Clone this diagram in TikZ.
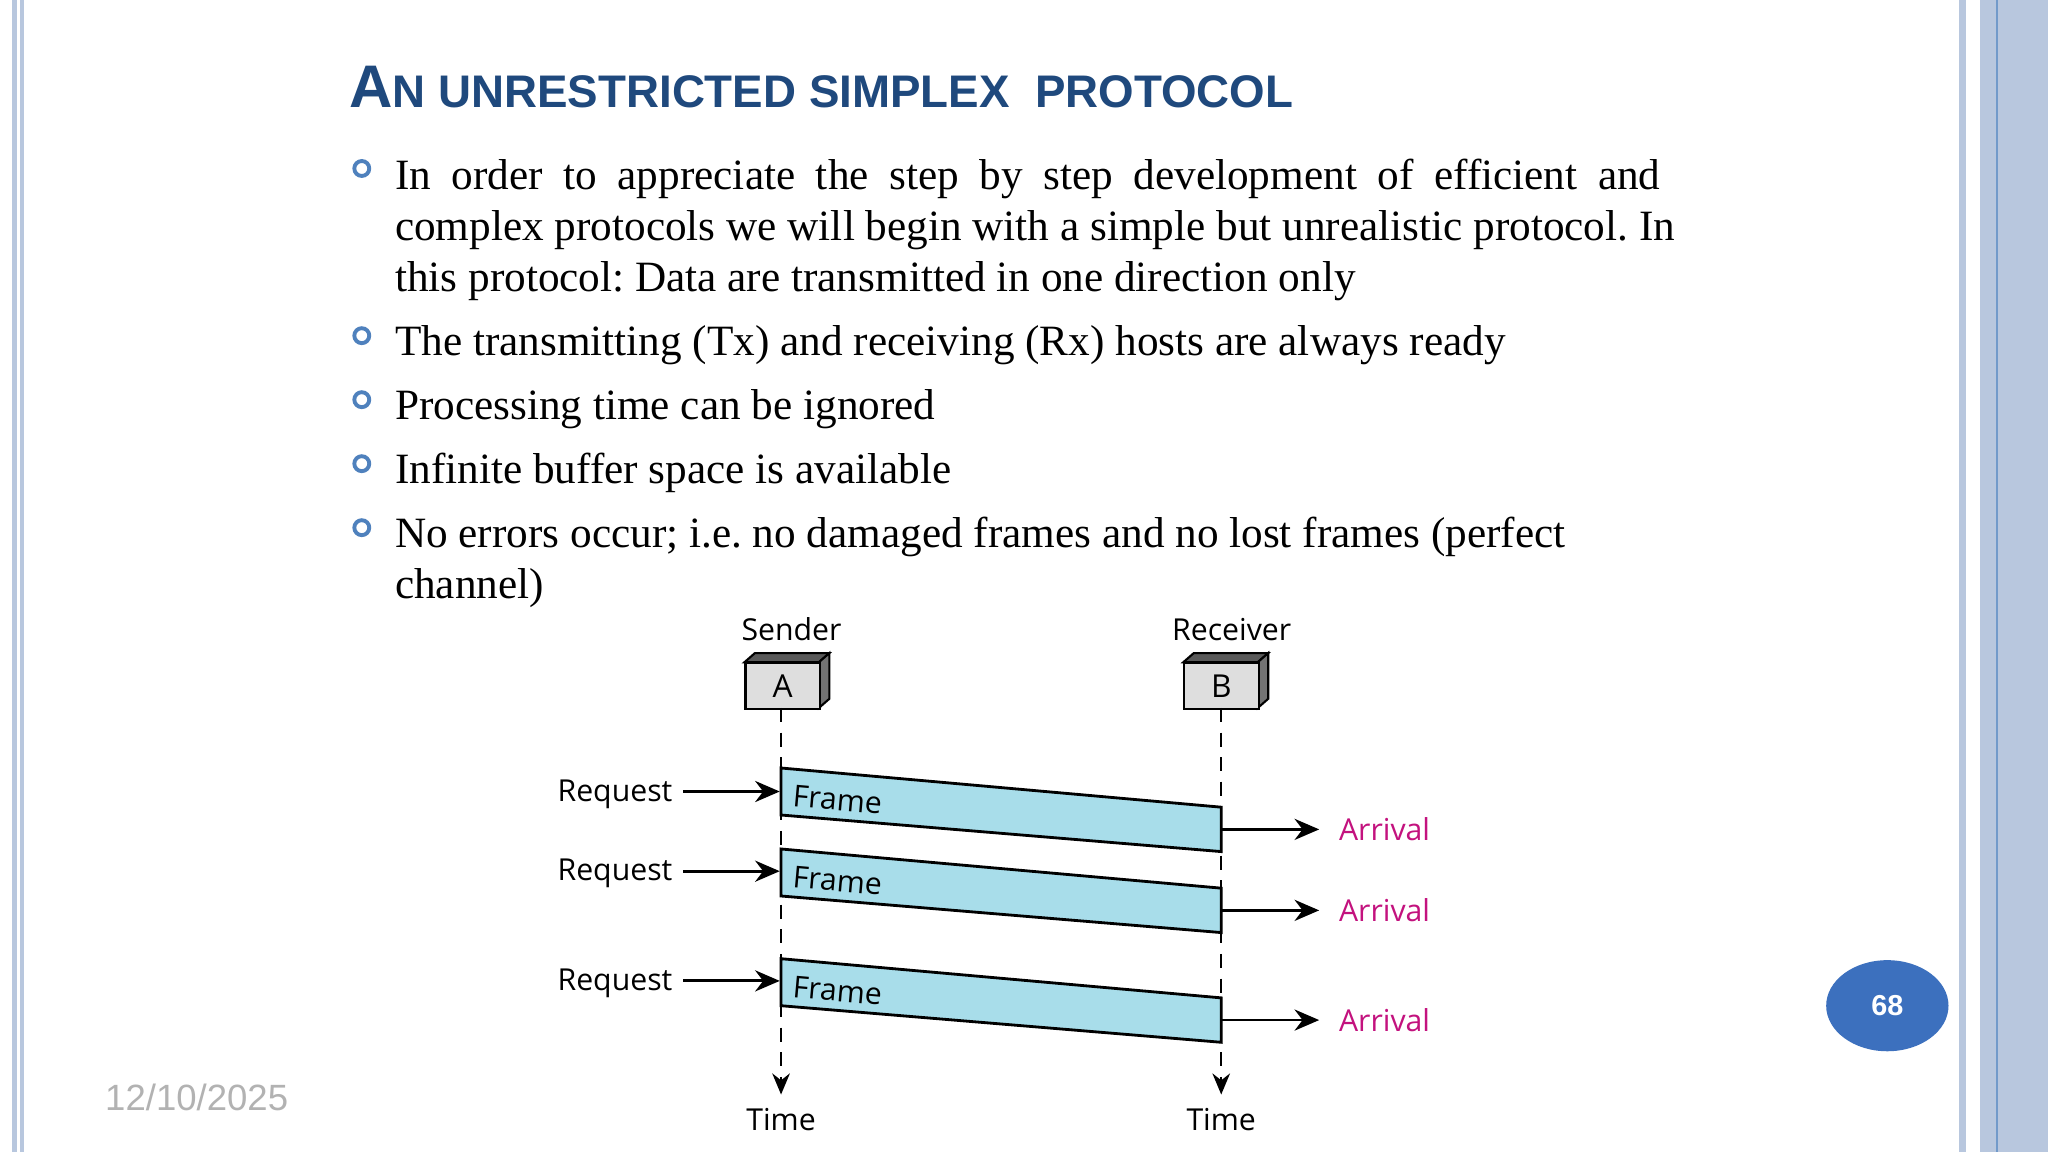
\documentclass[tikz,border=0pt]{standalone}
\usepackage{fontspec}
\setmainfont{Liberation Serif}
\setsansfont{Liberation Sans}
\newfontfamily\dfont{Open Sans}
\usetikzlibrary{arrows.meta,shapes.geometric}
\definecolor{edgeblue}{HTML}{B8C7DE}
\definecolor{titleblue}{HTML}{1F497D}
\definecolor{bulletblue}{HTML}{4F81BD}
\definecolor{framecyan}{HTML}{A8DDEA}
\definecolor{arrmag}{HTML}{C3127E}
\definecolor{numblue}{HTML}{3C70BE}
\tikzset{
  body/.style={anchor=base west,inner sep=0pt,font=\fontsize{12.3pt}{14pt}\selectfont\frenchspacing},
  bul/.style={draw=bulletblue,line width=1.1pt,circle,minimum size=11.5pt*0.37,inner sep=0pt},
  dlab/.style={font=\dfont\fontsize{8.6pt}{10pt}\selectfont,inner sep=1pt},
  frm/.style={draw=black,line width=0.8pt,fill=framecyan},
  life/.style={dashed,dash pattern=on 4pt off 3pt,line width=0.7pt,-{Stealth[length=6pt,width=5pt]}},
  sig/.style={line width=0.8pt,-{Stealth[length=7pt,width=6pt]}}
}
\begin{document}
\begin{tikzpicture}[x=0.01306cm,y=-0.01306cm]
\useasboundingbox (0,0) rectangle (1568,882);
\fill[white] (0,0) rectangle (1568,882);
% borders
\fill[edgeblue] (9,0) rectangle (13,882);
\fill[edgeblue] (15,0) rectangle (18,882);
\fill[edgeblue] (1500,0) rectangle (1505,882);
\fill[edgeblue] (1516,0) rectangle (1568,882);
\draw[bulletblue!80,line width=0.6pt] (1529,0) -- (1529,882);
% title
\node[anchor=base west,inner sep=0pt,text=titleblue,font=\sffamily\bfseries] (title) at (267,82)
 {{\fontsize{17.1pt}{18pt}\selectfont A}{\fontsize{13pt}{14pt}\selectfont N UNRESTRICTED SIMPLEX\ \ PROTOCOL}};
% bullets
\foreach \yy/\nm in {129/b1,257/b2,306/b3,355/b4,404/b5}
  \node[bul] (\nm) at (277,\yy) {};
\node[body] (t1) at (302,145) {\hbox to 360pt{In\hfill order\hfill to\hfill appreciate\hfill the\hfill step\hfill by\hfill step\hfill development\hfill of\hfill efficient\hfill and}};
\node[body] (t1b) at (302,184) {complex protocols we will begin with a simple but unrealistic protocol. In};
\node[body] (t1c) at (302,223) {this protocol: Data are transmitted in one direction only};
\node[body] (t2) at (302,272) {The transmitting (Tx) and receiving (Rx) hosts are always ready};
\node[body] (t3) at (302,321) {Processing time can be ignored};
\node[body] (t4) at (302,370) {Infinite buffer space is available};
\node[body] (t5) at (302,419) {No errors occur; i.e. no damaged frames and no lost frames (perfect};
\node[body] (t5b) at (302,458) {channel)};
% diagram
\node[dlab] (snd) at (606,482) {Sender};
\node[dlab] (rcv) at (943,482) {Receiver};
\foreach \xx/\nm/\lt in {570/A/A,906/B/B}{
  \fill[black!65,draw=black,line width=0.6pt] (\xx,507) -- (\xx+8,500) -- (\xx+65,500) -- (\xx+57,507) -- cycle;
  \fill[black!55,draw=black,line width=0.6pt] (\xx+57,507) -- (\xx+65,500) -- (\xx+65,535) -- (\xx+57,542) -- cycle;
  \node[draw=black,line width=0.6pt,fill=black!13,minimum width=57*0.3703pt,minimum height=35*0.3703pt,inner sep=0pt,anchor=north west,font=\dfont\fontsize{9pt}{10pt}\selectfont] (\nm) at (\xx,507) {\lt};
}
\coordinate (tA) at (598,838);
\coordinate (tB) at (935,838);
\draw[life] (598,542) -- (tA);
\draw[life] (935,542) -- (tB);
\node[dlab,anchor=north] (timeA) at (598,845) {Time};
\node[dlab,anchor=north] (timeB) at (935,845) {Time};
% frames
\foreach \a/\i/\ry/\ay in {588/1/606/635,650/2/667/697,734/3/751/781}{
  \draw[frm] (598,\a) -- (935,\a+30) -- (935,\a+64) -- (598,\a+36) -- cycle;
  \node[dlab,anchor=west,rotate=-5.1] (fr\i) at (604,\a+21) {Frame};
  \node[dlab,anchor=east] (rq\i) at (518,\ry+2) {Request};
  \coordinate (ra\i) at (597,\ry);
  \coordinate (rs\i) at (523,\ry);
  \draw[sig] (rs\i) -- (ra\i);
  \coordinate (as\i) at (935,\ay);
  \node[dlab,anchor=west,text=arrmag] (ar\i) at (1022,\ay) {Arrival};
  \draw[sig] (as\i) -- (1010,\ay);
}
% page number & date
\node[ellipse,fill=numblue,minimum width=94*0.3703pt,minimum height=70*0.3703pt,inner sep=0pt,text=white,font=\sffamily\bfseries\fontsize{8.2pt}{9pt}\selectfont] (pg) at (1445,770) {68};
\node[anchor=west,inner sep=0pt,text=black!30,font=\sffamily\fontsize{10.4pt}{11pt}\selectfont] (date) at (80,840) {12/10/2025};
\end{tikzpicture}
\end{document}
